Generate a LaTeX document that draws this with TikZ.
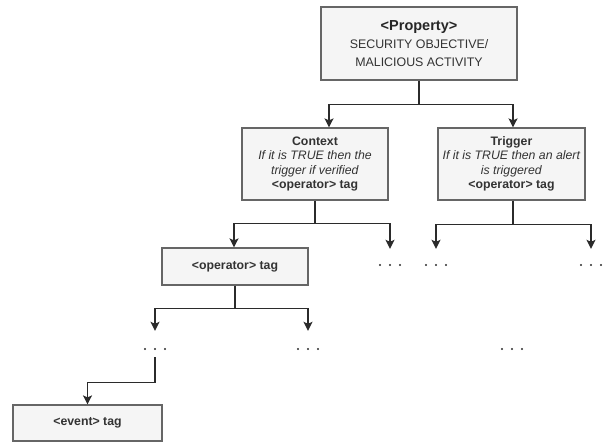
\documentclass[tikz,border=0pt]{standalone}
\usepackage{fontspec}
\setmainfont{Liberation Sans}
\usetikzlibrary{arrows.meta}
\definecolor{boxfill}{HTML}{F5F5F5}
\definecolor{boxline}{HTML}{666666}
\definecolor{txt}{HTML}{333333}
\definecolor{wire}{HTML}{2B2B2B}
\begin{document}
\begin{tikzpicture}[x=1pt,y=-1pt,
  box/.style={draw=boxline, fill=boxfill, line width=1.2pt, inner sep=0pt, align=center, text=txt, font=\fontsize{12.3}{14.5}\selectfont},
  arr/.style={draw=wire, line width=1.4pt, -{Stealth[length=9pt,width=9pt,inset=2pt]}},
  ln/.style={draw=wire, line width=1.4pt},
  dots/.style={minimum width=26pt, minimum height=16pt, inner sep=0pt,
    path picture={\fill[wire] (path picture bounding box.center) circle (1.2pt) +(-10pt,0) circle (1.2pt) +(10pt,0) circle (1.2pt);}},
  todots/.style={shorten >=8pt}]
\useasboundingbox (0,0) rectangle (605,442);

% boxes
\node[box, minimum width=196pt, minimum height=73pt, font=\fontsize{12.4}{18}\selectfont] (prop) at (419,43.5)
  {{\fontsize{14.5}{18}\selectfont\bfseries\color{black!85}<Property>}\\SECURITY OBJECTIVE/\\MALICIOUS ACTIVITY};
\node[box, minimum width=146pt, minimum height=72pt] (ctx) at (315,164)
  {\textbf{Context}\\\textit{If it is TRUE then the}\\\textit{trigger if verified}\\\textbf{<operator> tag}};
\node[box, minimum width=147pt, minimum height=72pt] (trg) at (511.5,164)
  {\textbf{Trigger}\\\textit{If it is TRUE then an alert}\\\textit{is triggered}\\\textbf{<operator> tag}};
\node[box, minimum width=146pt, minimum height=37pt] (op) at (235,266.5) {\textbf{<operator> tag}};
\node[box, minimum width=149pt, minimum height=36pt] (ev) at (87.5,423) {\textbf{<event> tag}};

% dots
\node[dots] (d1) at (390,265) {};
\node[dots] (d2) at (436,265) {};
\node[dots] (d3) at (591,265) {};
\node[dots] (d4) at (155,349) {};
\node[dots] (d5) at (308,349) {};
\node[dots] (d6) at (512,349) {};

% connectors
\draw[ln] (prop.south) -- ++(0,24) coordinate (j1);
\draw[arr] (j1) -| ([xshift=14pt]ctx.north);
\draw[arr] (j1) -| ([xshift=1.5pt]trg.north);

\draw[ln] (ctx.south) -- ++(0,23) coordinate (j2);
\draw[arr] (j2) -| (op.north -| 234,0);
\draw[arr, todots] (j2) -| (d1.north);

\draw[ln] ([xshift=1.5pt]trg.south) -- ++(0,24) coordinate (j3);
\draw[arr, todots] (j3) -| (d2.north);
\draw[arr, todots] (j3) -| (d3.north);

\draw[ln] (op.south) -- ++(0,23) coordinate (j4);
\draw[arr, todots, shorten >=10pt] (j4) -| (d4.north);
\draw[arr, todots, shorten >=10pt] (j4) -| (d5.north);

\draw[arr] (d4.south) -- ++(0,25) -| (ev.north);
\end{tikzpicture}
\end{document}
